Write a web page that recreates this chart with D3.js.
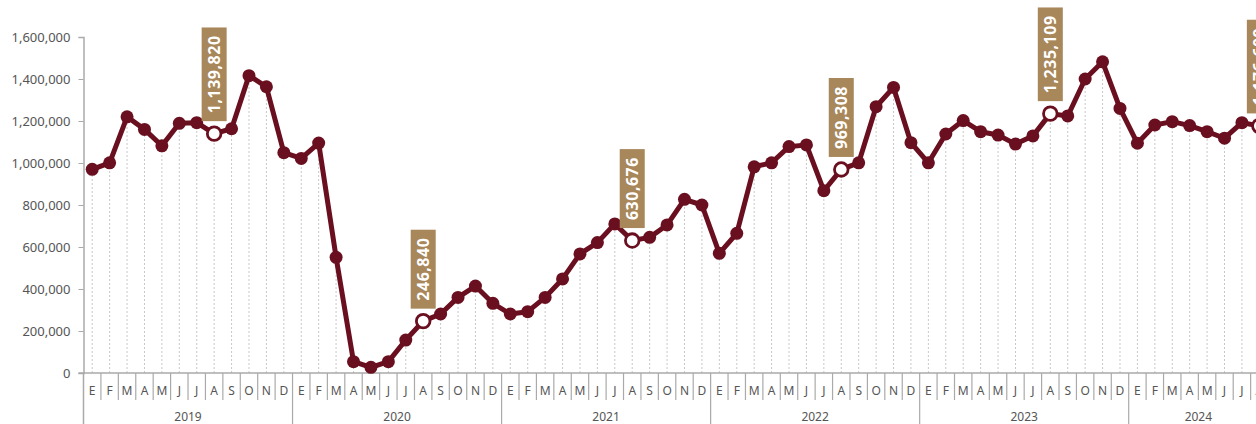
<!DOCTYPE html>
<html>
<head>
<meta charset="utf-8">
<script src="https://cdn.jsdelivr.net/npm/d3@7"></script>
<style>
  html, body { margin: 0; padding: 0; background: #fff; overflow: hidden; }
  svg { display: block; }
</style>
</head>
<body>
<svg id="chart" width="1256" height="424"></svg>
<script>
// monthly values, Jan 2019 .. Aug 2024
const years = [2019, 2020, 2021, 2022, 2023, 2024];
const monthLetters = ["E", "F", "M", "A", "M", "J", "J", "A", "S", "O", "N", "D"];
const v2019 = [970000, 1001000, 1220000, 1160000, 1082000, 1189000, 1192000, 1139820, 1163000, 1416000, 1363000, 1049000];
const v2020 = [1022000, 1095000, 551000, 54000, 27000, 54000, 157000, 246840, 281000, 360000, 414000, 332000];
const v2021 = [281000, 292000, 360000, 448000, 567000, 621000, 710000, 630676, 646000, 705000, 827000, 800000];
const v2022 = [570000, 665000, 982000, 1001000, 1078000, 1086000, 868000, 969308, 1001000, 1268000, 1360000, 1097000];
const v2023 = [1001000, 1138000, 1202000, 1149000, 1133000, 1090000, 1129000, 1235109, 1224000, 1400000, 1482000, 1260000];
const v2024 = [1094000, 1181000, 1197000, 1178000, 1149000, 1118000, 1192000, 1176609];
const yTicks = [0, 200000, 400000, 600000, 800000, 1000000, 1200000, 1400000, 1600000];
// August of every year gets a label
const highlightMonth = 7;

const values = [].concat(v2019, v2020, v2021, v2022, v2023, v2024);
const data = values.map((v, i) => ({
  i: i,
  year: years[Math.floor(i / 12)],
  month: i % 12,
  value: v
}));

const svg = d3.select("#chart");
const wine = "#6a0f1f";
const gold = "#a8875b";
const grey = "#555";

const x0 = 83.5, monthW = 17.42;
const x = d3.scaleLinear().domain([0, 72]).range([x0, x0 + 72 * monthW]);
const y = d3.scaleLinear().domain([0, 1600000]).range([373, 37]);
const xc = d => x(d.i + 0.5);

// y axis
const yAxis = d3.axisLeft(y).tickValues(yTicks).tickFormat(d3.format(",")).tickSize(5).tickPadding(8);
const gy = svg.append("g").attr("transform", `translate(${x0},0)`).call(yAxis);
gy.select(".domain").attr("stroke", "#aaa").attr("stroke-width", 1.5);
gy.selectAll(".tick line").attr("stroke", "#aaa");
gy.selectAll(".tick text")
  .attr("fill", grey)
  .style("font-family", "'Noto Sans', sans-serif")
  .style("font-size", "13px");

// drop lines from each point
svg.append("g").selectAll("line")
  .data(data)
  .join("line")
    .attr("x1", xc).attr("x2", xc)
    .attr("y1", y(0)).attr("y2", d => y(d.value))
    .attr("stroke", "#c8c8c8")
    .attr("stroke-width", 1)
    .attr("stroke-dasharray", "2,2");

// baseline + category axis
const nMonths = values.length;
svg.append("line")
  .attr("x1", x0 - 5).attr("x2", 1256)
  .attr("y1", y(0)).attr("y2", y(0))
  .attr("stroke", "#aaa").attr("stroke-width", 1.5);
svg.append("line")
  .attr("x1", x0).attr("x2", x0)
  .attr("y1", y(0)).attr("y2", 424)
  .attr("stroke", "#aaa").attr("stroke-width", 1.5);

const monthIdx = d3.range(1, nMonths + 1);
svg.append("g").selectAll("line")
  .data(monthIdx)
  .join("line")
    .attr("x1", d => x(d)).attr("x2", d => x(d))
    .attr("y1", y(0)).attr("y2", d => d % 12 === 0 ? 424 : 400)
    .attr("stroke", "#aaa").attr("stroke-width", 1.2);

svg.append("g").selectAll("text")
  .data(data)
  .join("text")
    .attr("x", xc)
    .attr("y", 392)
    .attr("text-anchor", "middle")
    .attr("dominant-baseline", "middle")
    .attr("fill", grey)
    .style("font-family", "'Noto Sans', sans-serif")
    .style("font-size", "12px")
    .text(d => monthLetters[d.month]);

svg.append("g").selectAll("text")
  .data(years)
  .join("text")
    .attr("x", (yr, k) => {
      const n = data.filter(d => d.year === yr).length;
      return x(k * 12 + n / 2);
    })
    .attr("y", 418)
    .attr("text-anchor", "middle")
    .attr("dominant-baseline", "middle")
    .attr("fill", grey)
    .style("font-family", "'Noto Sans', sans-serif")
    .style("font-size", "12px")
    .text(d => d);

// line
const line = d3.line().x(xc).y(d => y(d.value));
svg.append("path")
  .datum(data)
  .attr("d", line)
  .attr("fill", "none")
  .attr("stroke", wine)
  .attr("stroke-width", 5)
  .attr("stroke-linejoin", "round");

// dots
svg.append("g").selectAll("circle")
  .data(data)
  .join("circle")
    .attr("cx", xc)
    .attr("cy", d => y(d.value))
    .attr("r", d => d.month === highlightMonth ? 6.8 : 6.5)
    .attr("fill", d => d.month === highlightMonth ? "#fff" : wine)
    .attr("stroke", wine)
    .attr("stroke-width", d => d.month === highlightMonth ? 2.8 : 0);

// value labels (rotated, in gold boxes)
const fmt = d3.format(",");
const lab = svg.append("g").selectAll("g")
  .data(data.filter(d => d.month === highlightMonth))
  .join("g")
    .attr("transform", d => `translate(${xc(d)},${y(d.value) - 12.5}) rotate(-90)`);

const rects = lab.append("rect")
  .attr("fill", gold);
const texts = lab.append("text")
  .attr("x", 8)
  .attr("y", 0)
  .attr("dominant-baseline", "central")
  .attr("fill", "#fff")
  .style("font-family", "'Open Sans', sans-serif")
  .style("font-weight", "700")
  .style("font-size", "16px")
  .style("letter-spacing", "0.5px")
  .text(d => fmt(d.value));

texts.each(function(d) {
  d.tw = this.getComputedTextLength();
});
rects
  .attr("x", 0)
  .attr("y", -12.5)
  .attr("width", d => d.tw + 16)
  .attr("height", 25);
</script>
</body>
</html>
